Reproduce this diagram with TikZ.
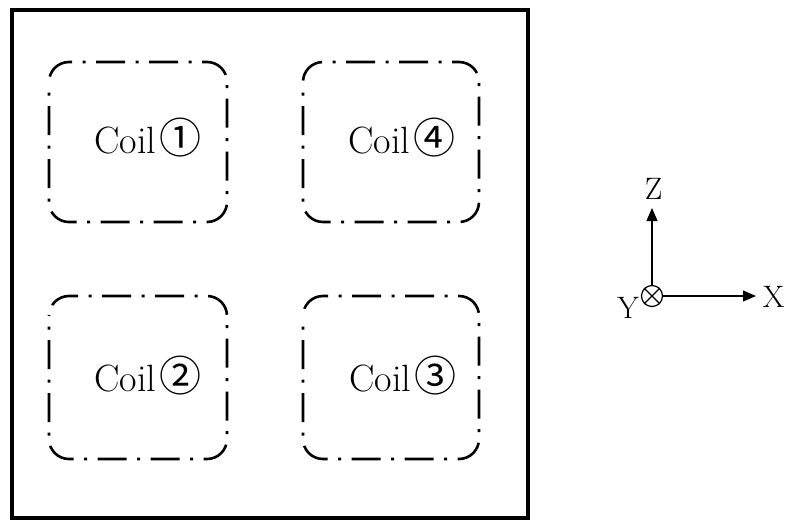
\documentclass[tikz,border=0pt]{standalone}
\usepackage{fontspec}
\newfontfamily\symfont{Noto Sans CJK JP}
\usetikzlibrary{arrows.meta}
\newcommand{\circnum}[1]{{\symfont\fontsize{42}{42}\selectfont #1}}
\begin{document}
\begin{tikzpicture}[x=1pt,y=-1pt,
  coil/.style={draw,line width=2.6pt,rounded corners=20pt,
    dash pattern=on 29pt off 10.5pt on 3pt off 10.5pt,dash phase=29pt},
  ctext/.style={font=\fontsize{38}{42}\selectfont,inner sep=0pt,anchor=base west},
  lbl/.style={font=\fontsize{31}{36}\selectfont,inner sep=0pt},
  axis/.style={line width=1.2pt,-{Triangle[length=13pt,width=11pt]}}]
\useasboundingbox (0,0) rectangle (787,522);
\draw[line width=4pt] (12,10) rectangle (528,518);
\draw[coil] (49,62) rectangle (227,222);
\draw[coil] (303,62) rectangle (479,222);
\draw[coil] (49,296) rectangle (227,459);
\draw[coil] (303,296) rectangle (479,459);
\node[ctext] (c1) at (94,153) {Coil\hspace{3pt}\circnum{①}};
\node[ctext] (c4) at (348,153) {Coil\hspace{3pt}\circnum{④}};
\node[ctext] (c2) at (94,391) {Coil\hspace{3pt}\circnum{②}};
\node[ctext] (c3) at (349,391) {Coil\hspace{3pt}\circnum{③}};
\node[draw,circle,line width=1.2pt,minimum size=21pt,inner sep=0pt] (o) at (652,296) {};
\draw[line width=1.2pt] (o.north west) -- (o.south east) (o.north east) -- (o.south west);
\coordinate (zt) at (652,208);
\coordinate (xt) at (756,296);
\draw[axis] (o.north) -- (zt);
\draw[axis] (o.east) -- (xt);
\node[lbl] (zl) at (653.5,189) {Z};
\node[lbl] (xl) at (773.5,297) {X};
\node[lbl] (yl) at (628,308) {Y};
\end{tikzpicture}
\end{document}
